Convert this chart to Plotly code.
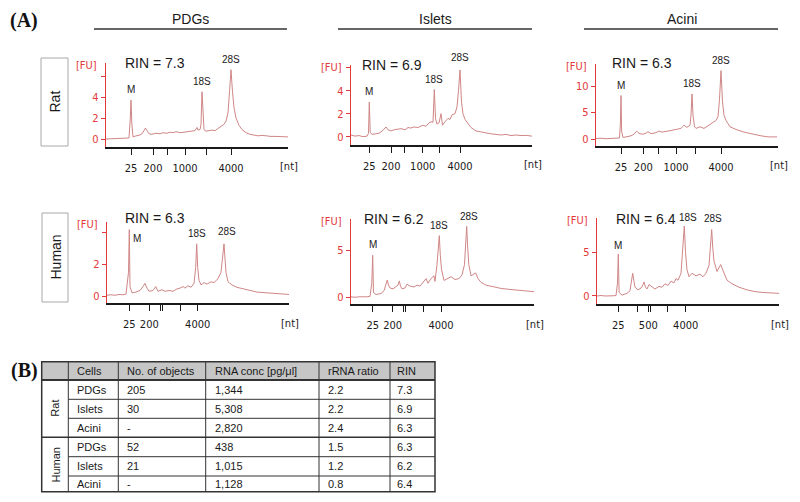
import plotly.graph_objects as go

W, H = 800, 502

# ---------------- data ----------------
cell_types = ["PDGs", "Islets", "Acini"]
species = ["Rat", "Human"]
rin_values = [[7.3, 6.9, 6.3], [6.3, 6.2, 6.4]]
peak_names = ["M", "18S", "28S"]

# Electropherograms: migration position (arbitrary units) vs fluorescence [FU]
rat_pdg_t = [0, 5, 10, 15, 20, 23, 24.3, 25, 25.8, 27, 30, 33, 36, 38, 39.5, 41, 43, 46, 50, 54, 57, 61, 64, 67, 70,
             74, 78, 82, 86, 89, 91, 92, 94, 95, 96, 97, 98, 100, 103, 106, 109, 112, 115, 118, 120, 122, 123.5, 125,
             126.5, 128, 130, 133, 136, 140, 144, 148, 152, 156, 160, 165, 170, 176, 182]
rat_pdg_fu = [0.0, 0.02, 0.0, 0.03, 0.05, 0.1, 2.0, 3.7, 1.5, 0.2, 0.3, 0.35, 0.5, 0.9, 1.05, 0.8, 0.5, 0.45, 0.55, 0.5,
              0.6, 0.55, 0.65, 0.6, 0.7, 0.6, 0.65, 0.7, 0.75, 0.8, 1.1, 0.85, 0.9, 1.4, 4.5, 2.0, 0.9, 0.75, 0.8,
              0.85, 0.8, 1.0, 1.2, 1.4, 1.7, 2.5, 4.5, 6.6, 4.5, 3.0, 2.0, 1.3, 0.9, 0.6, 0.45, 0.35, 0.3, 0.35, 0.3,
              0.25, 0.25, 0.2, 0.2]

rat_islet_t = [0, 4, 8, 12, 16, 17.5, 18.3, 19.2, 21, 24, 28, 32, 35, 37, 40, 43, 46, 50, 54, 57, 60, 63, 67, 70, 72,
               75, 78, 80, 82, 83.3, 84.5, 86, 88, 90, 91.5, 94, 97, 99, 101, 104, 106, 107.5, 109, 110.5, 112, 114,
               117, 120, 125, 130, 135, 140, 145, 150, 155, 160, 165, 170, 175, 181]
rat_islet_fu = [0.15, 0.05, 0.1, 0.0, 0.05, 0.3, 3.0, 0.4, 0.2, 0.25, 0.3, 0.55, 0.85, 0.6, 0.5, 0.6, 0.65, 0.7, 0.6,
                0.8, 0.75, 0.85, 0.8, 0.9, 1.0, 0.9, 1.2, 1.3, 1.25, 4.1, 1.6, 1.1, 1.2, 2.0, 1.0, 1.3, 1.6, 1.5, 1.9,
                2.0, 2.6, 4.0, 5.8, 3.0, 2.0, 1.5, 1.1, 0.8, 0.5, 0.4, 0.3, 0.25, 0.2, 0.15, 0.2, 0.1, 0.15, 0.1,
                0.12, 0.05]

rat_acini_t = [0, 5, 10, 15, 20, 23.5, 24.4, 25, 25.6, 27, 30, 35, 38, 40.7, 42, 44, 47, 50, 52, 55, 60, 63, 66, 70, 75,
               80, 85, 88, 91, 94, 95, 96, 97, 98.5, 100, 104, 108, 112, 116, 120, 122, 123.5, 125, 126.5, 128, 130,
               134, 140, 148, 157, 165, 172, 181]
rat_acini_fu = [0.1, 0.15, 0.05, 0.1, 0.15, 0.2, 3.0, 8.2, 1.5, 0.3, 0.4, 0.6, 0.9, 1.5, 1.2, 1.0, 0.9, 1.1, 1.4, 1.0,
                1.2, 1.5, 1.3, 1.4, 1.6, 1.8, 2.0, 2.6, 2.2, 2.6, 4.5, 8.5, 4.5, 2.3, 2.0, 2.3, 2.0, 2.5, 3.0, 3.5,
                4.2, 7.5, 12.9, 7.0, 4.5, 3.5, 2.3, 1.8, 1.3, 0.9, 0.6, 0.4, 0.4]

hum_pdg_t = [0, 4, 8, 12, 16, 19, 21.5, 22.3, 23, 25, 29, 33, 36, 38, 40, 42, 46, 48.7, 51, 55, 58, 62, 66, 70, 73, 76,
             78, 81, 84, 87, 88.7, 89.7, 90.7, 92, 94, 97, 100, 104, 107, 111, 114, 115.8, 117, 118.2, 119, 121, 125,
             130, 136, 142, 150, 160, 170, 182]
hum_pdg_fu = [0.05, 0.08, 0.05, 0.1, 0.08, 0.12, 1.5, 4.2, 0.6, 0.2, 0.25, 0.35, 0.6, 0.8, 0.5, 0.3, 0.35, 0.6, 0.3,
              0.4, 0.3, 0.35, 0.3, 0.45, 0.5, 0.6, 0.5, 0.65, 0.55, 0.8, 1.8, 3.3, 1.8, 1.0, 0.7, 0.85, 0.75, 0.9,
              0.85, 1.1, 1.5, 2.5, 3.3, 2.2, 1.5, 0.9, 0.7, 0.55, 0.45, 0.35, 0.25, 0.2, 0.15, 0.1]

hum_islet_t = [0, 4, 8, 12, 16, 19, 20.8, 21.7, 22.5, 25, 30, 33, 35, 36.3, 37.5, 39, 42, 45, 47, 48.3, 49.5, 51, 54,
               56, 59, 63, 66, 69, 72, 75, 77, 80, 83, 84, 86, 87.3, 88.3, 89.3, 90.5, 93, 97, 100, 104, 108, 111,
               113.5, 114.8, 115.7, 116.6, 117.8, 120, 122.5, 124.7, 127, 130, 135, 142, 150, 158, 166, 175, 183]
hum_islet_fu = [0.05, 0.0, 0.05, 0.02, 0.05, 0.1, 1.5, 4.5, 0.5, 0.3, 0.4, 0.7, 1.4, 1.85, 1.3, 1.0, 0.9, 1.2, 1.3,
                1.75, 1.2, 0.9, 1.0, 1.4, 1.2, 1.1, 1.3, 1.2, 1.6, 2.0, 1.5, 2.0, 2.3, 1.7, 3.5, 5.5, 6.6, 4.5, 3.0,
                1.8, 2.0, 2.2, 1.9, 2.0, 2.4, 3.5, 6.0, 7.6, 5.5, 3.5, 2.3, 2.5, 2.6, 2.0, 1.6, 1.3, 1.1, 0.95, 0.85,
                0.75, 0.65, 0.6]

hum_acini_t = [0, 4, 8, 12, 16, 19, 20.5, 21.3, 22.1, 25, 30, 33, 34.8, 35.7, 36.8, 38, 41, 44, 46, 47, 48.5, 50, 52,
               55, 58, 62, 65, 68, 71, 74, 77, 79, 81, 84, 85.8, 87.3, 88.5, 90, 92, 95, 99, 103, 106, 109, 112, 113.7,
               114.7, 115.8, 117, 120, 122.5, 123.7, 125, 127, 130, 135, 142, 150, 158, 166, 175, 182]
hum_acini_fu = [0.0, 0.05, 0.0, 0.05, 0.02, 0.05, 1.5, 4.8, 0.4, 0.1, 0.3, 0.6, 1.8, 2.6, 1.8, 1.0, 0.7, 0.9, 1.3, 1.6,
                1.0, 0.8, 1.3, 1.0, 0.8, 1.1, 1.0, 1.4, 1.2, 1.7, 1.5, 2.0, 1.8, 2.6, 5.0, 8.0, 5.0, 3.0, 2.2, 2.6,
                2.3, 2.5, 2.2, 2.6, 3.5, 6.0, 7.6, 5.5, 4.0, 2.8, 3.3, 3.6, 3.2, 2.6, 1.8, 1.4, 1.0, 0.7, 0.5, 0.4,
                0.3, 0.3]

# ladder tick positions and labels per panel
rat_pdg_ticks = [25, 47, 61, 79, 100, 125]
rat_islet_ticks = [18.3, 40, 53.3, 71.7, 88.3, 109]
rat_acini_ticks = [25, 47.3, 62.3, 80, 99, 125]
hum_pdg_ticks = [22.3, 42.3, 53, 55.3, 73, 90.7]
hum_islet_ticks = [21.7, 41.7, 52.3, 54.3, 72.3, 90]
hum_acini_ticks = [21.3, 40.3, 51.3, 53.7, 70.7, 88.7]
rat_tick_text = ["25", "200", "", "1000", "", "4000"]
hum_tick_text = ["25", "200", "", "", "", "4000"]
hum_acini_tick_text = ["25", "", "500", "", "", "4000"]

# peak positions (M, 18S, 28S)
rat_pdg_peaks = [25, 96, 125]
rat_islet_peaks = [18.3, 83.3, 109]
rat_acini_peaks = [25, 96, 125]
hum_pdg_peaks = [22.3, 89.7, 117]
hum_islet_peaks = [21.7, 88.3, 115.7]
hum_acini_peaks = [21.3, 87.3, 114.7]

# table (B)
table_header = ["Cells", "No. of objects", "RNA conc [pg/μl]", "rRNA ratio", "RIN"]
table_cells = ["PDGs", "Islets", "Acini", "PDGs", "Islets", "Acini"]
table_objects = ["205", "30", "-", "52", "21", "-"]
table_conc = ["1,344", "5,308", "2,820", "438", "1,015", "1,128"]
table_ratio = ["2.2", "2.2", "2.4", "1.5", "1.2", "0.8"]
table_rin = ["7.3", "6.9", "6.3", "6.3", "6.2", "6.4"]

# ---------------- styling / layout ----------------
SANS = "Liberation Sans, Arial, Helvetica, sans-serif"
NARROW = "Liberation Sans Narrow, DejaVu Sans Condensed, Arial Narrow, sans-serif"
SERIF = "Liberation Serif, Times New Roman, serif"
RED = "#e23a3a"
TRACE = "#d08686"
INK = "#1a1a1a"
OFF = 8  # page body margin of the browser


def px(x):
    return (x - OFF) / W


def py(y):
    return 1 - (y - OFF) / H


panels = [
    dict(t=rat_pdg_t, fu=rat_pdg_fu, ticks=rat_pdg_ticks, tt=rat_tick_text, peaks=rat_pdg_peaks,
         L=106, R=288, top=63, bot=147, yr=[-0.76, 7.24], yt=[0, 2, 4, 6], ytt=["0", "2", "4", ""],
         rin=rin_values[0][0], rinx=123, riny=63, lab_shift=[(0, 3), (0, 3), (0, 3)]),
    dict(t=rat_islet_t, fu=rat_islet_fu, ticks=rat_islet_ticks, tt=rat_tick_text, peaks=rat_islet_peaks,
         L=351, R=532, top=65, bot=145, yr=[-0.72, 6.23], yt=[0, 2, 4, 6], ytt=["0", "2", "4", ""],
         rin=rin_values[0][1], rinx=360, riny=65, lab_shift=[(0, 3), (0, 3), (0, 5)]),
    dict(t=rat_acini_t, fu=rat_acini_fu, ticks=rat_acini_ticks, tt=rat_tick_text, peaks=rat_acini_peaks,
         L=596, R=778, top=64, bot=146, yr=[-1.32, 14.15], yt=[0, 5, 10], ytt=["0", "5", "10"],
         rin=rin_values[0][2], rinx=610, riny=63, lab_shift=[(0, 3), (0, 3), (0, 3)]),
    dict(t=hum_pdg_t, fu=hum_pdg_fu, ticks=hum_pdg_ticks, tt=hum_tick_text, peaks=hum_pdg_peaks,
         L=107, R=289, top=222, bot=303, yr=[-0.44, 4.68], yt=[0, 2, 4], ytt=["0", "2", ""],
         rin=rin_values[1][0], rinx=123, riny=218, lab_shift=[("M", 0), (0, 3), (3, 5)]),
    dict(t=hum_islet_t, fu=hum_islet_fu, ticks=hum_islet_ticks, tt=hum_tick_text, peaks=hum_islet_peaks,
         L=351, R=534, top=219, bot=304, yr=[-0.72, 8.38], yt=[0, 5], ytt=["0", "5"],
         rin=rin_values[1][1], rinx=362, riny=219, lab_shift=[(0, 3), (0, 3), (2, 2)]),
    dict(t=hum_acini_t, fu=hum_acini_fu, ticks=hum_acini_ticks, tt=hum_acini_tick_text, peaks=hum_acini_peaks,
         L=597, R=779, top=218, bot=304, yr=[-0.92, 8.93], yt=[0, 5], ytt=["0", "5"],
         rin=rin_values[1][2], rinx=614, riny=219, lab_shift=[(0, 1), (4, 1), (1, 4)]),
]

fig = go.Figure()
annotations = []
shapes = []

for i, p in enumerate(panels):
    n = "" if i == 0 else str(i + 1)
    xr, yr = "x" + n, "y" + n
    fig.add_trace(go.Scatter(x=p["t"], y=p["fu"], mode="lines", line=dict(color=TRACE, width=1),
                             xaxis=xr, yaxis=yr, hoverinfo="skip", showlegend=False))
    fig.layout["xaxis" + n] = dict(
        domain=[px(p["L"]), px(p["R"])], anchor=yr, range=[0, p["R"] - p["L"]],
        showline=True, linecolor=INK, linewidth=1.6, showgrid=False, zeroline=False,
        ticks="outside", ticklen=6, tickwidth=1.2, tickcolor=INK,
        tickvals=p["ticks"], ticktext=p["tt"], tickfont=dict(family=NARROW, size=11, color=INK),
        ticklabelstandoff=4, fixedrange=True)
    fig.layout["yaxis" + n] = dict(
        domain=[py(p["bot"]), py(p["top"])], anchor=xr, range=p["yr"],
        showline=True, linecolor=RED, linewidth=1.3, showgrid=False, zeroline=False,
        ticks="outside", ticklen=4, tickwidth=1.2, tickcolor=RED,
        tickvals=p["yt"], ticktext=p["ytt"], tickfont=dict(family=NARROW, size=11, color=RED),
        fixedrange=True)
    # peak labels
    for k, (name, pt) in enumerate(zip(peak_names, p["peaks"])):
        yv = p["fu"][p["t"].index(pt)]
        sh = p["lab_shift"][k]
        if sh[0] == "M":
            annotations.append(dict(x=pt, y=yv, xref=xr, yref=yr, text=name, showarrow=False,
                                    xanchor="left", yanchor="top", xshift=2, yshift=-1,
                                    font=dict(family=SANS, size=10, color=INK)))
        else:
            annotations.append(dict(x=pt, y=yv, xref=xr, yref=yr, text=name, showarrow=False,
                                    xanchor="center", yanchor="bottom", xshift=sh[0], yshift=sh[1],
                                    font=dict(family=SANS, size=10, color=INK)))
    # RIN text
    annotations.append(dict(x=px(p["rinx"]), y=py(p["riny"]), xref="paper", yref="paper",
                            text=f"RIN = {p['rin']}", showarrow=False, xanchor="left", yanchor="middle",
                            font=dict(family=SANS, size=14, color=INK)))
    # [FU] and [nt]
    annotations.append(dict(x=px(p["L"] - 7), y=py(p["top"] + 2), xref="paper", yref="paper",
                            text="[FU]", showarrow=False, xanchor="right", yanchor="middle",
                            font=dict(family=NARROW, size=11, color=RED)))
    annotations.append(dict(x=px(p["R"] + 1), y=py(p["bot"] + 20), xref="paper", yref="paper",
                            text="[nt]", showarrow=False, xanchor="center", yanchor="middle",
                            font=dict(family=NARROW, size=11, color=INK)))

# column headers with rules
col_centers = [190, 435.7, 681.7]
col_rules = [(94, 287), (338, 532), (584, 778)]
for name, cx, (a, b) in zip(cell_types, col_centers, col_rules):
    annotations.append(dict(x=px(cx), y=py(19), xref="paper", yref="paper", text=name, showarrow=False,
                            xanchor="center", yanchor="middle", font=dict(family=SANS, size=14, color=INK)))
    shapes.append(dict(type="line", xref="paper", yref="paper", x0=px(a), x1=px(b), y0=py(29), y1=py(29),
                       line=dict(color="#333333", width=1.5)))

# row label boxes
row_boxes = [(41, 68, 58, 146), (42, 68, 213, 302)]
for name, (x0, x1, y0, y1) in zip(species, row_boxes):
    shapes.append(dict(type="rect", xref="paper", yref="paper", x0=px(x0), x1=px(x1), y0=py(y1), y1=py(y0),
                       line=dict(color="#a8a8a8", width=1)))
    annotations.append(dict(x=px((x0 + x1) / 2), y=py((y0 + y1) / 2), xref="paper", yref="paper", text=name,
                            textangle=-90, showarrow=False, xanchor="center", yanchor="middle",
                            font=dict(family=SANS, size=14, color=INK)))

# panel letters
for letter, yy in [("(A)", 20.5), ("(B)", 370)]:
    annotations.append(dict(x=px(24), y=py(yy), xref="paper", yref="paper", text=f"<b>{letter}</b>",
                            showarrow=False, xanchor="center", yanchor="middle",
                            font=dict(family=SERIF, size=20, color="#111111")))

# ---------------- table (B) ----------------
tx0, tx1 = 41.7, 435
col_lines = [68.3, 118.3, 205.7, 319, 390]
hdr_top, hdr_bot = 361.7, 380
row_lines = [380, 399.3, 418.3, 437.3, 456.7, 476, 491.7]
shapes.append(dict(type="rect", xref="paper", yref="paper", x0=px(tx0), x1=px(tx1), y0=py(hdr_bot), y1=py(hdr_top),
                   fillcolor="#c6c6c6", line=dict(width=0), layer="below"))
for xl in col_lines:
    shapes.append(dict(type="line", xref="paper", yref="paper", x0=px(xl), x1=px(xl), y0=py(row_lines[-1]),
                       y1=py(hdr_top), line=dict(color="#333333", width=1)))
for j, yl in enumerate(row_lines[1:-1]):
    full = (j == 2)
    shapes.append(dict(type="line", xref="paper", yref="paper", x0=px(tx0 if full else col_lines[0]), x1=px(tx1),
                       y0=py(yl), y1=py(yl), line=dict(color="#333333", width=1.6 if full else 1)))
shapes.append(dict(type="line", xref="paper", yref="paper", x0=px(tx0), x1=px(tx1), y0=py(hdr_bot), y1=py(hdr_bot),
                   line=dict(color="#333333", width=2)))
shapes.append(dict(type="rect", xref="paper", yref="paper", x0=px(tx0), x1=px(tx1), y0=py(row_lines[-1]),
                   y1=py(hdr_top), line=dict(color="#333333", width=1.5)))

text_x = [c + 7 for c in col_lines]
text_x[-1] = col_lines[-1] + 5
hdr_cy = (hdr_top + hdr_bot) / 2
for tx, label in zip(text_x, table_header):
    annotations.append(dict(x=px(tx), y=py(hdr_cy), xref="paper", yref="paper", text=label, showarrow=False,
                            xanchor="left", yanchor="middle", font=dict(family=SANS, size=11, color=INK)))
columns = [table_cells, table_objects, table_conc, table_ratio, table_rin]
for r in range(6):
    cy = (row_lines[r] + row_lines[r + 1]) / 2
    for tx, col in zip(text_x, columns):
        annotations.append(dict(x=px(tx), y=py(cy), xref="paper", yref="paper", text=col[r], showarrow=False,
                                xanchor="left", yanchor="middle", font=dict(family=SANS, size=11, color=INK)))
for name, (ya, yb) in zip(species, [(row_lines[0], row_lines[3]), (row_lines[3], row_lines[6])]):
    annotations.append(dict(x=px((tx0 + col_lines[0]) / 2), y=py((ya + yb) / 2 + (1 if name == "Human" else 0)),
                            xref="paper", yref="paper", text=name, textangle=-90, showarrow=False,
                            xanchor="center", yanchor="middle", font=dict(family=SANS, size=11, color=INK)))

fig.update_layout(width=W, height=H, margin=dict(l=0, r=0, t=0, b=0), paper_bgcolor="white",
                  plot_bgcolor="rgba(0,0,0,0)", showlegend=False, annotations=annotations, shapes=shapes)

fig.write_html("out.html")
